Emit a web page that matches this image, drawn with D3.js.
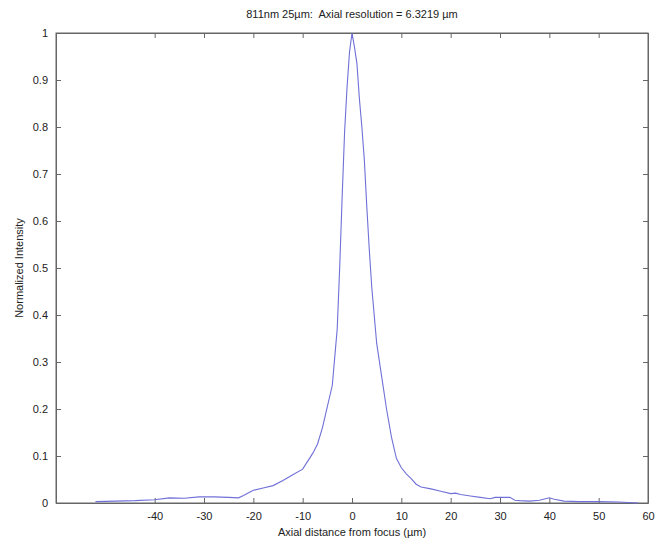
<!DOCTYPE html>
<html>
<head>
<meta charset="utf-8">
<script src="https://cdn.jsdelivr.net/npm/d3@7"></script>
<style>
  body { margin: 0; background: #fff; }
  svg { display: block; font-family: "Liberation Sans", Arial, sans-serif; }
  .axis text { font-size: 11px; fill: #222; }
  .axis path, .axis line { stroke: #666; }
</style>
</head>
<body>
<svg></svg>
<script>
//------------------
// DATA
//------------------
var titleText = "811nm 25\u00b5m:  Axial resolution = 6.3219 \u00b5m";
var xLabel = "Axial distance from focus (\u00b5m)";
var yLabel = "Normalized Intensity";

var xTicks = [-40, -30, -20, -10, 0, 10, 20, 30, 40, 50, 60];
var yTicks = [0, 0.1, 0.2, 0.3, 0.4, 0.5, 0.6, 0.7, 0.8, 0.9, 1];

var distance = [-52, -48, -44, -40, -37, -34, -31, -28, -25, -23, -22, -20, -18, -16, -14, -12, -10,
    -8, -7, -6, -5, -4, -3, -2.5, -2, -1.5, -1, -0.5, 0, 0.5, 1, 1.5, 2, 2.5, 3, 3.5, 4, 4.5, 5,
    6, 7, 8, 9, 10, 11, 12, 13, 14, 16, 18, 20, 21, 22, 24, 26, 28, 29, 30, 32, 33, 34, 36, 38,
    40, 41, 43, 46, 50, 54, 58];
var intensity = [0.003, 0.004, 0.005, 0.007, 0.011, 0.010, 0.013, 0.013, 0.012, 0.011, 0.016, 0.027,
    0.032, 0.037, 0.048, 0.060, 0.072, 0.105, 0.125, 0.16, 0.205, 0.25, 0.37, 0.50, 0.65, 0.79,
    0.885, 0.96, 1.0, 0.97, 0.935, 0.86, 0.80, 0.73, 0.63, 0.54, 0.46, 0.40, 0.34, 0.27, 0.20,
    0.14, 0.095, 0.075, 0.062, 0.052, 0.040, 0.034, 0.030, 0.025, 0.020, 0.021, 0.018, 0.015,
    0.012, 0.009, 0.012, 0.012, 0.012, 0.006, 0.005, 0.004, 0.006, 0.011, 0.008, 0.004, 0.003,
    0.003, 0.002, 0.0];

//------------------
// LAYOUT
//------------------
var width = 660, height = 544;
var margin = { left: 56, right: 12, top: 33, bottom: 41 };
var innerW = width - margin.left - margin.right,
    innerH = height - margin.top - margin.bottom;

var svg = d3.select("svg").attr("width", width).attr("height", height);
var g = svg.append("g").attr("transform", "translate(" + margin.left + "," + margin.top + ")");

var x = d3.scaleLinear().domain([-60, 60]).range([0, innerW]);
var y = d3.scaleLinear().domain([0, 1]).range([innerH, 0]);

var tickLen = 5;
// plain hyphen for negatives, like the original
var fmt = function (d) { return String(d); };

//------------------
// AXES (box, ticks inward)
//------------------
g.append("g").attr("class", "axis")
    .attr("transform", "translate(0," + innerH + ")")
    .call(d3.axisBottom(x).tickValues(xTicks).tickSizeInner(-tickLen).tickSizeOuter(0).tickPadding(9)
        .tickFormat(fmt));
g.append("g").attr("class", "axis")
    .call(d3.axisTop(x).tickValues(xTicks).tickSizeInner(-tickLen).tickSizeOuter(0).tickFormat(""));
g.append("g").attr("class", "axis")
    .call(d3.axisLeft(y).tickValues(yTicks).tickSizeInner(-tickLen).tickSizeOuter(0).tickPadding(8)
        .tickFormat(fmt));
g.append("g").attr("class", "axis")
    .attr("transform", "translate(" + innerW + ",0)")
    .call(d3.axisRight(y).tickValues(yTicks).tickSizeInner(-tickLen).tickSizeOuter(0).tickFormat(""));

// box outline
g.append("rect")
    .attr("width", innerW).attr("height", innerH)
    .attr("fill", "none").attr("stroke", "#666");

//------------------
// CURVE
//------------------
var line = d3.line()
    .x(function (d, i) { return x(distance[i]); })
    .y(function (d) { return y(d); });

g.append("path")
    .datum(intensity)
    .attr("fill", "none")
    .attr("stroke", "#7070d8")
    .attr("stroke-width", 1.1)
    .attr("d", line);

//------------------
// LABELS
//------------------
svg.append("text")
    .attr("x", margin.left + x(0)).attr("y", 18)
    .attr("text-anchor", "middle")
    .style("font-size", "11px").style("white-space", "pre").attr("fill", "#222")
    .text(titleText);

svg.append("text")
    .attr("x", margin.left + x(0)).attr("y", 536)
    .attr("text-anchor", "middle")
    .style("font-size", "11px").attr("fill", "#222")
    .text(xLabel);

svg.append("text")
    .attr("transform", "translate(23," + (margin.top + innerH / 2) + ") rotate(-90)")
    .attr("text-anchor", "middle")
    .style("font-size", "11px").attr("fill", "#222")
    .text(yLabel);
</script>
</body>
</html>
